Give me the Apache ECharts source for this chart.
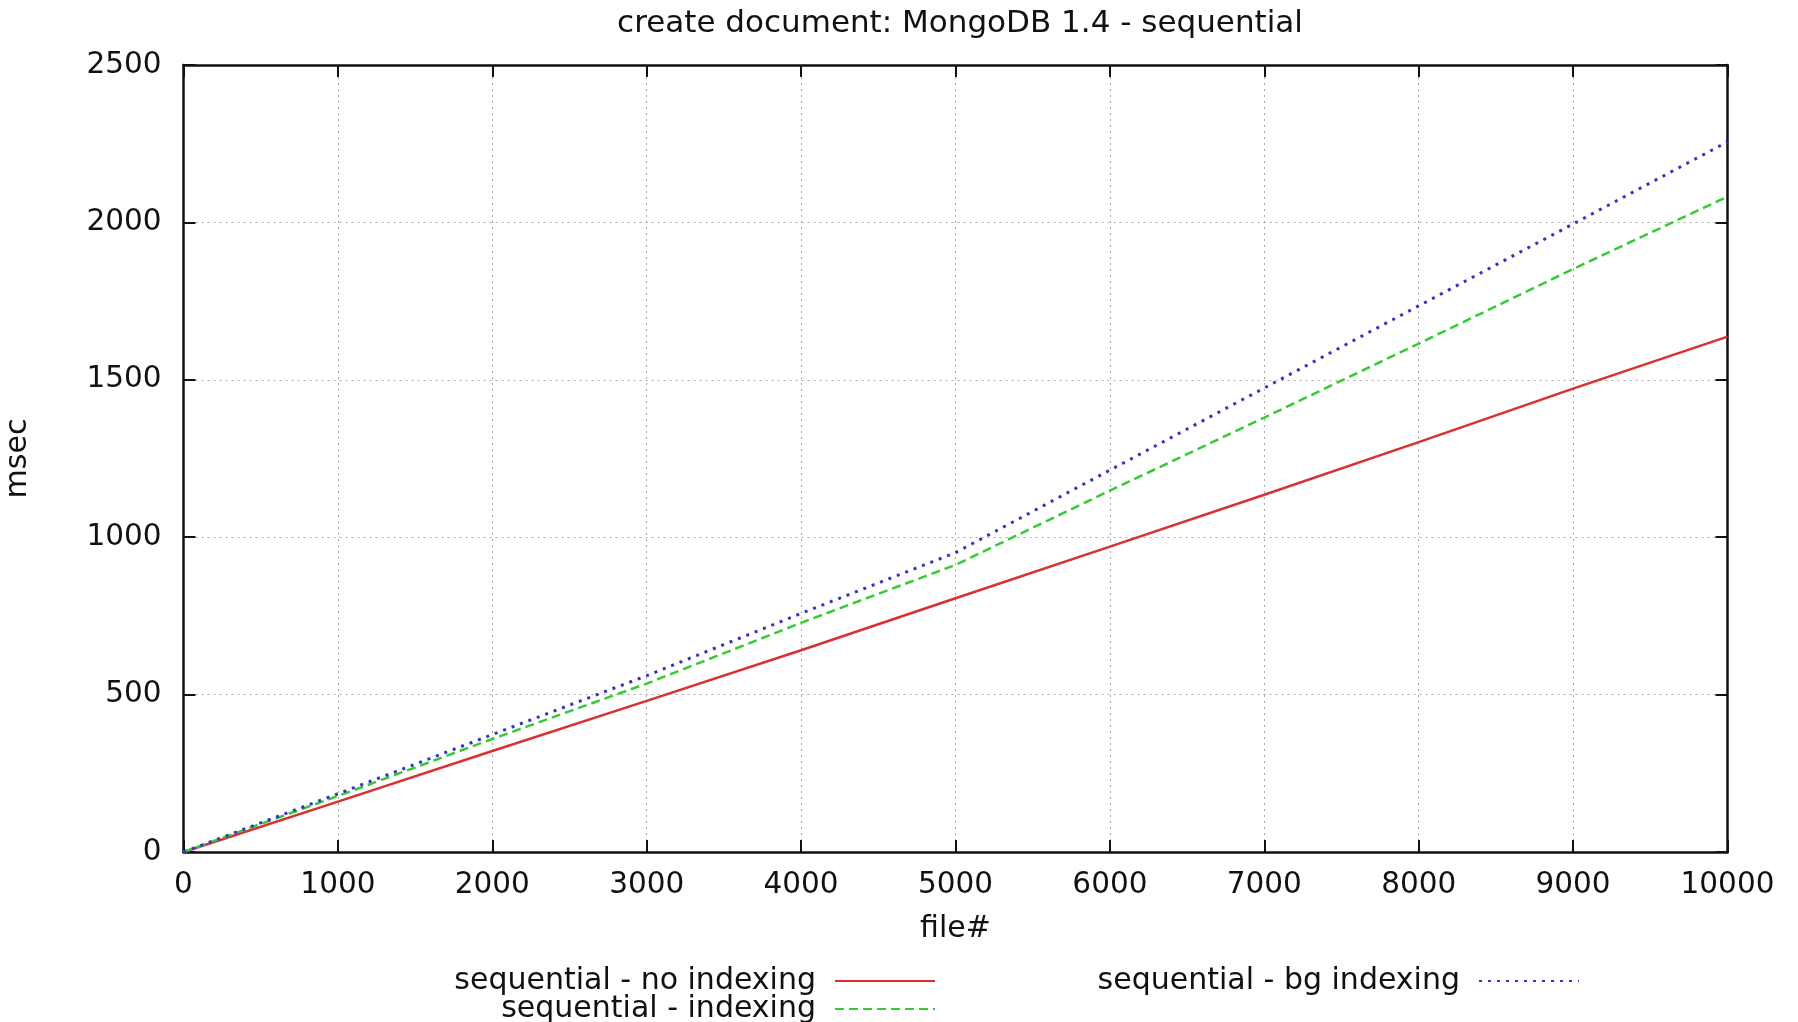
<!DOCTYPE html>
<html>
<head>
<meta charset="utf-8">
<script src="https://cdn.jsdelivr.net/npm/echarts@6/dist/echarts.min.js"></script>
<style>
html,body{margin:0;padding:0;background:#fff;}
#chart{width:1798px;height:1022px;}
</style>
</head>
<body>
<div id="chart"></div>
<script>
const fileNums = [0, 1000, 2000, 3000, 4000, 5000, 6000, 7000, 8000, 9000, 10000];
const noIndexing = [0, 160, 321, 480, 641, 806, 970, 1135, 1302, 1472, 1637];
const indexing = [0, 178, 359, 535, 728, 912, 1148, 1380, 1615, 1852, 2082];
const bgIndexing = [0, 185, 373, 560, 758, 951, 1213, 1474, 1735, 1995, 2256];
const seriesNames = ['sequential - no indexing', 'sequential - indexing', 'sequential - bg indexing'];
const titleText = 'create document: MongoDB 1.4 - sequential';
const xName = 'file#';
const yName = 'msec';

const FONT = 'DejaVu Sans';
const chart = echarts.init(document.getElementById('chart'), null, {renderer: 'canvas'});

function pairs(ys) { return fileNums.map((x, i) => [x, ys[i]]); }

const gridLine = {show: true, lineStyle: {color: '#a8a8a8', type: [2, 4], width: 1}};
const axisLabelStyle = {fontFamily: FONT, fontSize: 29.5, color: '#111', formatter: v => String(v)};
const tickStyle = {show: true, inside: true, length: 12, lineStyle: {color: '#111', width: 2}};
const axisLineStyle = {show: true, onZero: false, lineStyle: {color: '#111', width: 2.5}};
const legendText = {fontFamily: FONT, fontSize: 30, color: '#111', padding: [0, 14, 0, 0]};

function legendFor(name, right, top) {
  return {
    data: [name], orient: 'horizontal', align: 'right', right: right, top: top,
    itemWidth: 100, itemHeight: 14, padding: 0,
    itemStyle: {opacity: 0},
    textStyle: legendText
  };
}

chart.setOption({
  animation: false,
  backgroundColor: '#fff',
  title: {
    text: titleText, left: 955, top: 3, textAlign: 'center',
    textStyle: {fontFamily: FONT, fontSize: 31, fontWeight: 'normal', color: '#111'}
  },
  grid: {left: 183.5, top: 65, width: 1544, height: 787, containLabel: false, outerBoundsMode: 'none'},
  xAxis: [{
    type: 'value', min: 0, max: 10000, interval: 1000,
    name: xName, nameLocation: 'middle', nameGap: 62,
    nameTextStyle: {fontFamily: FONT, fontSize: 30, color: '#111'},
    axisLine: axisLineStyle,
    axisTick: tickStyle,
    axisLabel: Object.assign({margin: 18}, axisLabelStyle),
    splitLine: gridLine
  }, {
    type: 'value', min: 0, max: 10000, interval: 1000, position: 'top',
    axisLine: axisLineStyle, axisTick: tickStyle,
    axisLabel: {show: false}, splitLine: {show: false}
  }],
  yAxis: [{
    type: 'value', min: 0, max: 2500, interval: 500,
    name: yName, nameLocation: 'middle', nameGap: 150, nameRotate: 90,
    nameTextStyle: {fontFamily: FONT, fontSize: 30, color: '#111'},
    axisLine: axisLineStyle,
    axisTick: tickStyle,
    axisLabel: Object.assign({margin: 22}, axisLabelStyle),
    splitLine: gridLine
  }, {
    type: 'value', min: 0, max: 2500, interval: 500, position: 'right',
    axisLine: axisLineStyle, axisTick: tickStyle,
    axisLabel: {show: false}, splitLine: {show: false}
  }],
  legend: [
    legendFor(seriesNames[0], 1798 - 936, 966),
    legendFor(seriesNames[1], 1798 - 936, 994),
    legendFor(seriesNames[2], 1798 - 1580, 966)
  ],
  series: [{
    name: seriesNames[0], type: 'line', data: pairs(noIndexing), showSymbol: false, symbol: 'none',
    lineStyle: {color: '#dc2f2f', width: 2.5, type: 'solid'}, itemStyle: {color: '#dc2f2f'}
  }, {
    name: seriesNames[1], type: 'line', data: pairs(indexing), showSymbol: false, symbol: 'none',
    lineStyle: {color: '#33cc33', width: 2.5, type: [9, 5]}, itemStyle: {color: '#33cc33'}
  }, {
    name: seriesNames[2], type: 'line', data: pairs(bgIndexing), showSymbol: false, symbol: 'none',
    lineStyle: {color: '#3333cc', width: 3, type: [3, 6]}, itemStyle: {color: '#3333cc'}
  }]
});
</script>
</body>
</html>
